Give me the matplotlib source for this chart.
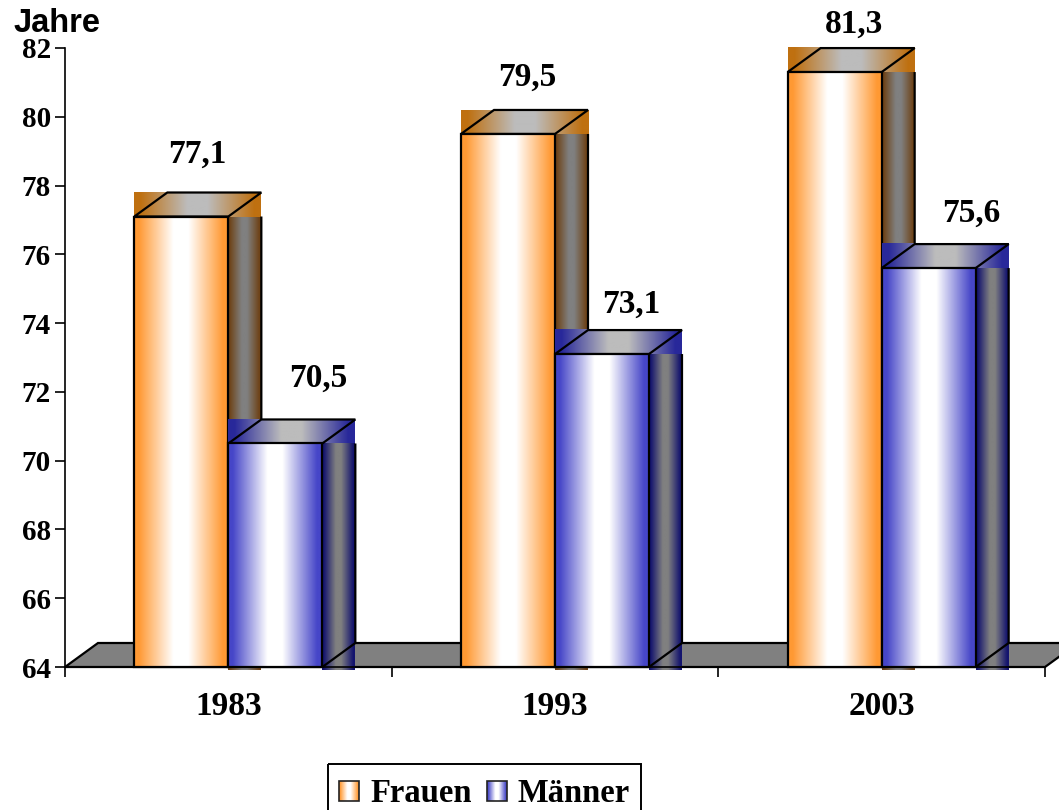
import numpy as np
import matplotlib
matplotlib.use("Agg")
import matplotlib.pyplot as plt
from matplotlib.colors import LinearSegmentedColormap
from matplotlib.patches import Polygon, Rectangle

# Daten
jahre = ["1983", "1993", "2003"]
frauen = [77.1, 79.5, 81.3]
maenner = [70.5, 73.1, 75.6]
y_ticks = [64, 66, 68, 70, 72, 74, 76, 78, 80, 82]

# Versatz der Beschriftungen in Pixel, von der Mitte der Vorderseite aus
frauen_dx = [16, 19, 19]
frauen_dy = [62, 57, 48]
maenner_dx = [43, 29, 43]
maenner_dy = [65, 50, 55]

W, H = 1059, 810
BASE = 64
bar_w = 94 / (980 / 3)
depth_x = 33 / (980 / 3)
depth_y = 24 * 18 / 619


def verlauf(name, rand, mitte):
    return LinearSegmentedColormap.from_list(
        name, [(0, rand), (0.05, rand), (0.42, mitte), (0.58, mitte), (0.95, rand), (1, rand)])


front_f = verlauf("ff", "#ff9933", "#ffffff")
front_m = verlauf("fm", "#4646c8", "#ffffff")
top_f = verlauf("tf", "#bf7010", "#bcbcbc")
top_m = verlauf("tm", "#28289a", "#bcbcbc")
side_f = verlauf("sf", "#6e4318", "#808080")
side_m = verlauf("sm", "#14146e", "#808080")
grad = np.linspace(0, 1, 256).reshape(1, -1)

fig = plt.figure(figsize=(W / 100, H / 100), dpi=100)
ax = fig.add_axes([65 / W, (H - 667) / H, 980 / W, 619 / H])
ax.set_facecolor("none")

z = [3]


def flaeche(x0, x1, y0, y1, cmap):
    z[0] += 1
    ax.imshow(grad, extent=(x0, x1, y0, y1), cmap=cmap, aspect="auto",
              interpolation="bilinear", zorder=z[0], clip_on=False)


def linie(punkte, closed=True, lw=1.6):
    z[0] += 1
    ax.add_patch(Polygon(punkte, closed=closed, fill=False, edgecolor="black",
                         linewidth=lw, zorder=z[0], clip_on=False))


def balken(x0, wert, c_front, c_top, c_side):
    x1 = x0 + bar_w
    unter = BASE - 0.09
    # Seite
    flaeche(x1, x1 + depth_x, unter, wert, c_side)
    # Oberseite
    flaeche(x0, x1 + depth_x, wert, wert + depth_y, c_top)
    linie([(x0, wert), (x0 + depth_x, wert + depth_y),
           (x1 + depth_x, wert + depth_y), (x1, wert)])
    linie([(x1, BASE), (x1 + depth_x, BASE + depth_y), (x1 + depth_x, wert)], closed=False)
    # Vorderseite
    flaeche(x0, x1, BASE, wert, c_front)
    linie([(x0, BASE), (x0, wert), (x1, wert), (x1, BASE)])


# Boden
ax.add_patch(Polygon([(-0.5, BASE), (-0.5 + depth_x, BASE + depth_y),
                      (2.5 + depth_x, BASE + depth_y), (2.5, BASE)],
                     facecolor="#808080", edgecolor="black", linewidth=1.6,
                     zorder=2, clip_on=False))

pos = np.arange(len(jahre))
for i in pos:
    balken(i - bar_w, frauen[i], front_f, top_f, side_f)
    balken(i, maenner[i], front_m, top_m, side_m)

for i in pos:
    for wert, x_mitte, dx, dy in [
        (frauen[i], i - bar_w / 2, frauen_dx[i], frauen_dy[i]),
        (maenner[i], i + bar_w / 2, maenner_dx[i], maenner_dy[i]),
    ]:
        ax.annotate(f"{wert:.1f}".replace(".", ","), xy=(x_mitte, wert),
                    xytext=(dx * 0.72, dy * 0.72), textcoords="offset points",
                    ha="center", va="center", fontsize=24, fontweight="bold",
                    family="Liberation Serif", zorder=100)

ax.set_xlim(-0.5, 2.5)
ax.set_ylim(BASE, 82)
ax.set_yticks(y_ticks)
ax.set_yticklabels([str(t) for t in y_ticks], fontsize=21, fontweight="bold",
                   family="Liberation Serif")
ax.set_xticks([-0.5, 0.5, 1.5, 2.5])
ax.set_xticklabels([])
ax.set_xticks(pos, minor=True)
ax.set_xticklabels(jahre, minor=True, fontsize=24, fontweight="bold",
                   family="Liberation Serif")
ax.tick_params(axis="y", length=7.2, width=1.2, pad=3)
ax.tick_params(axis="x", which="major", length=7, width=1.2)
ax.tick_params(axis="x", which="minor", length=0, pad=17)
for s in ["top", "right"]:
    ax.spines[s].set_visible(False)
for s in ["left", "bottom"]:
    ax.spines[s].set_linewidth(1.2)
    ax.spines[s].set_zorder(60)

fig.text(14 / W, 1 - 23 / H, "Jahre", fontsize=23.5, fontweight="bold",
         family="Liberation Sans", ha="left", va="center")

# Legende in Pixelkoordinaten
leg = fig.add_axes([0, 0, 1, 1], facecolor="none")
leg.set_xlim(0, W)
leg.set_ylim(H, 0)
leg.axis("off")
leg.add_patch(Rectangle((328, 764), 313, 60, fill=False, edgecolor="black", linewidth=1.4))
for x0, cmap, text, x_text in [(339, front_f, "Frauen", 370), (487, front_m, "Männer", 518)]:
    leg.imshow(grad, extent=(x0, x0 + 20, 801, 781), cmap=cmap, aspect="auto")
    leg.add_patch(Rectangle((x0, 781), 20, 20, fill=False, edgecolor="#222222", linewidth=1.2))
    leg.text(x_text, 802, text, fontsize=23.5, fontweight="bold",
             family="Liberation Serif", ha="left", va="baseline")
leg.set_xlim(0, W)
leg.set_ylim(H, 0)

fig.savefig("out.png", dpi=100)
